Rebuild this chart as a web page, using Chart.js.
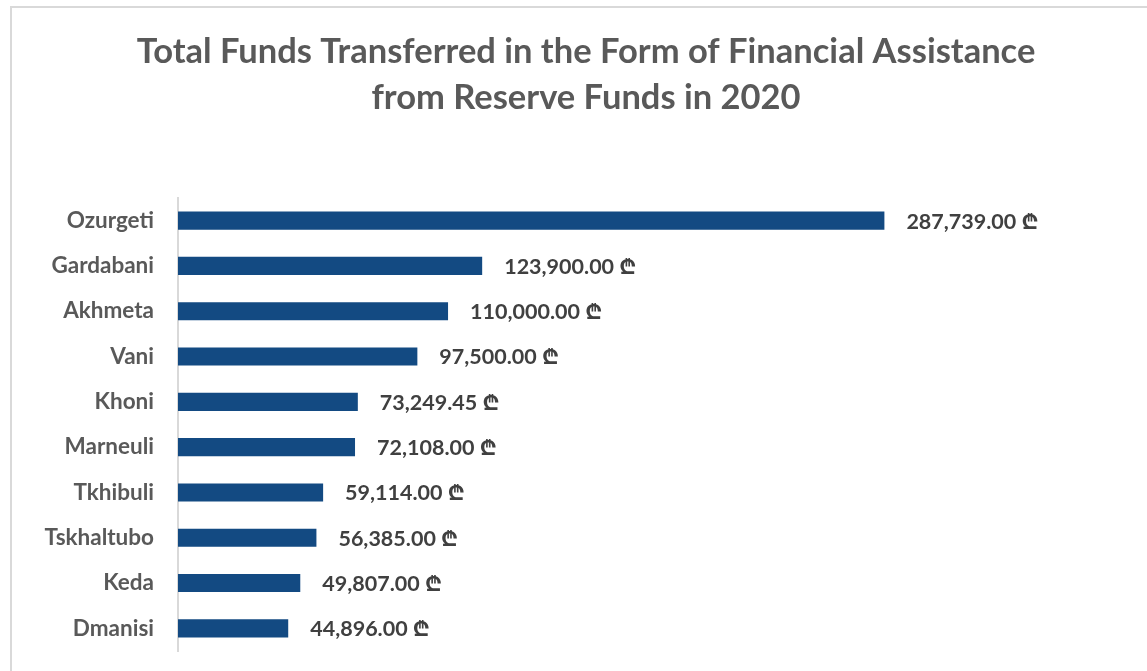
<!DOCTYPE html>
<html>
<head>
<meta charset="utf-8">
<script src="https://cdn.jsdelivr.net/npm/chart.js@4/dist/chart.umd.min.js"></script>
<style>
    html, body { margin: 0; padding: 0; background: #ffffff; overflow: hidden; }
    .frame {
        position: absolute;
        left: 10px;
        top: 6px;
        width: 1151px;
        height: 671px;
        border: 2px solid #d9d9d9;
        background: #ffffff;
    }
    canvas { display: block; }
</style>
</head>
<body>
<div class="frame">
    <canvas id="fundsChart" width="1151" height="671"></canvas>
</div>
<script>
// Municipalities and amounts (GEL)
const municipalities = ['Ozurgeti', 'Gardabani', 'Akhmeta', 'Vani', 'Khoni', 'Marneuli', 'Tkhibuli', 'Tskhaltubo', 'Keda', 'Dmanisi'];
const amounts = [287739.00, 123900.00, 110000.00, 97500.00, 73249.45, 72108.00, 59114.00, 56385.00, 49807.00, 44896.00];
const titleLines = ['Total Funds Transferred in the Form of Financial Assistance', 'from Reserve Funds in 2020'];
const currencySign = '\u20BE';

const FONT = "Lato, 'Open Sans', 'Noto Sans', sans-serif";

function formatAmount(v) {
    return v.toLocaleString('en-US', { minimumFractionDigits: 2, maximumFractionDigits: 2 }) + ' ' + currencySign;
}

// Value labels drawn to the right of each bar
const valueLabels = {
    id: 'valueLabels',
    afterDatasetsDraw(chart) {
        const ctx = chart.ctx;
        const meta = chart.getDatasetMeta(0);
        ctx.save();
        ctx.font = "bold 21.5px " + FONT;
        ctx.fillStyle = '#404040';
        ctx.textAlign = 'left';
        ctx.textBaseline = 'middle';
        meta.data.forEach((bar, i) => {
            ctx.fillText(formatAmount(amounts[i]), bar.x + 22, bar.y + 1);
        });
        ctx.restore();
    }
};

new Chart(document.getElementById('fundsChart'), {
    type: 'bar',
    data: {
        labels: municipalities,
        datasets: [{
            data: amounts,
            backgroundColor: '#134a82',
            borderWidth: 0,
            barPercentage: 0.8,
            categoryPercentage: 0.5
        }]
    },
    options: {
        indexAxis: 'y',
        responsive: false,
        animation: false,
        layout: {
            padding: { left: 0, top: 0, right: 3, bottom: 28 }
        },
        plugins: {
            legend: { display: false },
            tooltip: { enabled: false },
            title: {
                display: true,
                text: titleLines,
                color: '#595959',
                font: { family: FONT, size: 34.5, weight: 'bold', lineHeight: 1.333 },
                padding: { top: 21, bottom: 77 }
            }
        },
        scales: {
            x: {
                display: false,
                min: 0,
                max: 400000
            },
            y: {
                afterFit(scale) {
                    scale.width = 166;
                    scale.paddingTop = 0;
                    scale.paddingBottom = 0;
                },
                grid: { display: false, drawTicks: false },
                border: { display: true, color: '#d9d9d9', width: 2 },
                ticks: {
                    padding: 24,
                    color: '#595959',
                    font: { family: FONT, size: 22.5, weight: 'bold' }
                }
            }
        }
    },
    plugins: [valueLabels]
});
</script>
</body>
</html>
